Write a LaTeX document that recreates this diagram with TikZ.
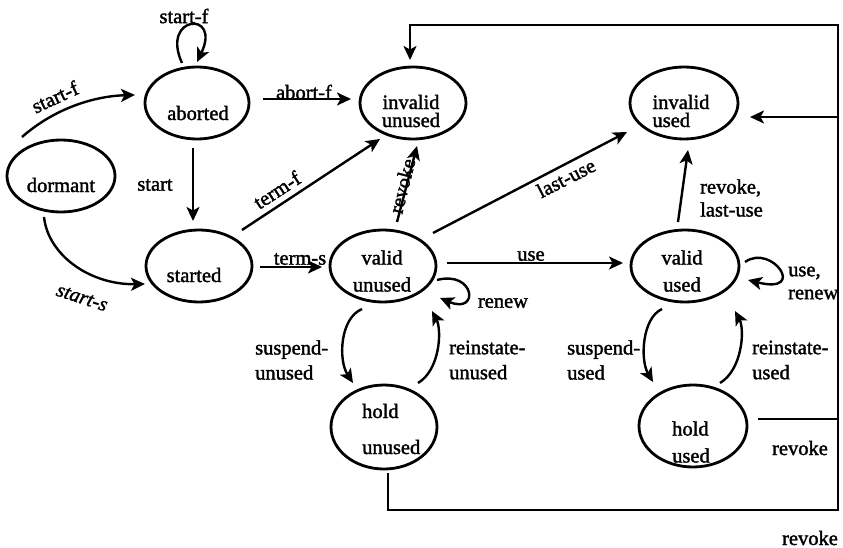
\documentclass[tikz,border=0pt]{standalone}
\usepackage{fontspec}
\setmainfont{Liberation Serif}
\newfontfamily\labfam{Liberation Serif}[FakeBold=1.6]
\newcommand\lbfont{\labfam\fontsize{20.5}{25}\selectfont}
\usetikzlibrary{shapes.geometric,arrows.meta,calc}
\begin{document}
\begin{tikzpicture}[x=1pt,y=-1pt,
  st/.style={draw, ellipse, line width=2.8pt, inner sep=0pt},
  arr/.style={line width=2.4pt, -{Stealth[length=14pt,width=13pt,inset=3.5pt]}},
  ln/.style={line width=2.4pt},
  lbl/.style={inner sep=0pt, font=\lbfont},
]
\useasboundingbox (0,0) rectangle (843,548);

% states
\node[st, minimum width=108pt, minimum height=72pt] (dormant)  at (61,176)  {};
\node[st, minimum width=104pt, minimum height=72pt] (aborted)  at (197,103) {};
\node[st, minimum width=106pt, minimum height=72pt] (invU)     at (413,103) {};
\node[st, minimum width=108pt, minimum height=72pt] (invUsed)  at (684,103) {};
\node[st, minimum width=106pt, minimum height=72pt] (started)  at (199,266) {};
\node[st, minimum width=106pt, minimum height=72pt] (valU)     at (383,266) {};
\node[st, minimum width=108pt, minimum height=72pt] (valUsed)  at (685,266) {};
\node[st, minimum width=106pt, minimum height=84pt] (holdU)    at (384,427) {};
\node[st, minimum width=108pt, minimum height=82pt] (holdUsed) at (693,426) {};

% state texts
\node[lbl] (tdormant) at (61,185) {dormant};
\node[lbl] (taborted) at (198,113) {aborted};
\node[lbl, align=center] (tinvU) at (411,111) {invalid\\[-7pt]unused};
\node[lbl, align=left] (tinvUsed) at (681,111) {invalid\\[-7pt]used};
\node[lbl] (tstarted) at (194,275) {started};
\node[lbl, align=center] (tvalU) at (382,271) {valid\\[2pt]unused};
\node[lbl, align=center] (tvalUsed) at (682,271) {valid\\[2pt]used};
\node[lbl, align=left, anchor=west] (tholdU) at (362,429) {hold\\[11pt]unused};
\node[lbl, align=left, anchor=west] (tholdUsed) at (672,442) {hold\\[2pt]used};

% frame coordinates
\coordinate (br) at (838,510);
\coordinate (tr) at (838,25);
\coordinate (j1) at (838,117);
\coordinate (j2) at (838,419);

% transitions
\draw[arr] ($(aborted)+(-15,-40)$) .. controls (160,15) and (222,10) .. ($(aborted)+(0,-41)$);
\draw[arr] ($(dormant)+(-39,-39)$) .. controls (55,108) and (95,96) .. ($(aborted)+(-62,-8)$);
\draw[arr] ($(aborted)+(-4,45)$) -- ($(started)+(-6,-45)$);
\draw[arr] ($(dormant)+(-17,41)$) .. controls (48,255) and (90,285) .. ($(started)+(-54,18)$);
\draw[arr] ($(aborted)+(66,-4)$) -- ($(invU)+(-62,-4)$);
\draw[arr] ($(started)+(43,-36)$) -- ($(invU)+(-33,36)$);
\draw[arr] ($(started)+(61,1)$) -- ($(valU)+(-61,1)$);
\draw[arr] ($(valU)+(14,-44)$) -- ($(invU)+(4,43)$);
\draw[arr] ($(valU)+(50,-33)$) -- ($(invUsed)+(-57,29)$);
\draw[arr] ($(valU)+(64,-3)$) -- ($(valUsed)+(-62,-3)$);
\draw[arr] ($(valUsed)+(-7,-44)$) -- ($(invUsed)+(4,47)$);
\draw[arr] ($(valUsed)+(60,-4)$) .. controls (772,243) and (808,295) .. ($(valUsed)+(63,14)$);
\draw[arr] ($(valU)+(54,14)$) .. controls (475,270) and (480,315) .. ($(valU)+(57,32)$);
\draw[arr] ($(valU)+(-21,43)$) .. controls (340,318) and (338,360) .. ($(holdU)+(-31,-44)$);
\draw[arr] ($(holdU)+(34,-44)$) .. controls (440,370) and (442,330) .. ($(valU)+(49,45)$);
\draw[arr] ($(valUsed)+(-23,43)$) .. controls (642,318) and (640,360) .. ($(holdUsed)+(-40,-44)$);
\draw[arr] ($(holdUsed)+(27,-43)$) .. controls (742,370) and (745,330) .. ($(valUsed)+(50,45)$);

% transition labels
\node[lbl] (lsfloop) at (184,16) {start-f};
\node[lbl, rotate=25] (lsf) at (55,97) {start-f};
\node[lbl] (lstart) at (155,185) {start};
\node[lbl, rotate=-18, font=\lbfont\itshape] (lss) at (82,298) {start-s};
\node[lbl] (labf) at (304,92) {abort-f};
\node[lbl, rotate=33] (ltf) at (277,190) {term-f};
\node[lbl] (lts) at (300,259) {term-s};
\node[lbl, rotate=76] (lrev1) at (402,186) {revoke};
\node[lbl, rotate=27] (llu) at (566,178) {last-use};
\node[lbl] (luse) at (531,256) {use};
\node[lbl, align=left, anchor=west] (lrevlu) at (700,198) {revoke,\\[-2pt]last-use};
\node[lbl, align=left, anchor=west] (lusren) at (788,283) {use,\\[-2pt]renew};
\node[lbl] (lren) at (503,303) {renew};
\node[lbl, align=left, anchor=west] (lsusU) at (255,360) {suspend-\\unused};
\node[lbl, align=left, anchor=west] (lreiU) at (449,360) {reinstate-\\unused};
\node[lbl, align=left, anchor=west] (lsusUsed) at (567,360) {suspend-\\used};
\node[lbl, align=left, anchor=west] (lreiUsed) at (752,360) {reinstate-\\used};
\node[lbl] (lrev2) at (800,448) {revoke};
\node[lbl] (lrev3) at (810,538) {revoke};

% revoke frame
\draw[arr] ($(holdU)+(4,46)$) |- (br) -- (tr) -| ($(invU)+(-3,-43)$);
\draw[arr] (j1) -- ($(invUsed)+(66,14)$);
\draw[ln] ($(holdUsed)+(65,-7)$) -- (j2);
\end{tikzpicture}
\end{document}
